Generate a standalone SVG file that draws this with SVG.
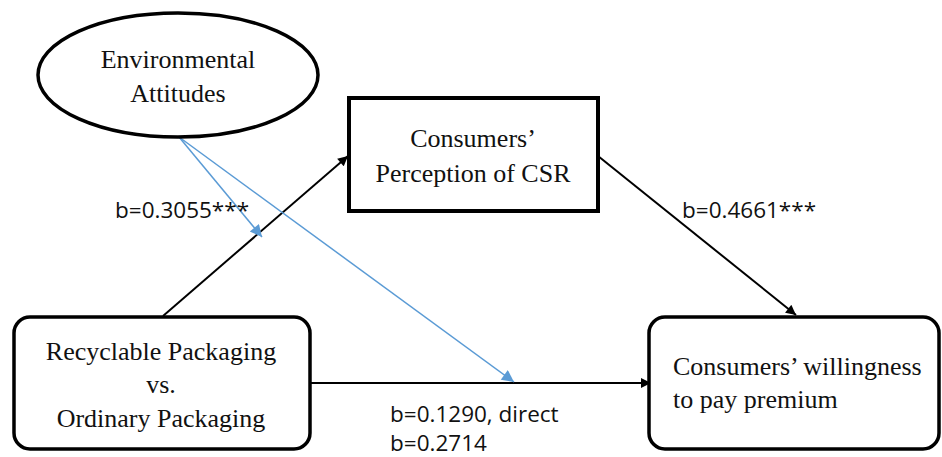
<svg xmlns="http://www.w3.org/2000/svg" width="942" height="457" viewBox="0 0 942 457">
<defs>
<marker id="ab" viewBox="0 0 10 10" refX="10" refY="5" markerWidth="12" markerHeight="10" markerUnits="userSpaceOnUse" orient="auto"><path d="M0,0 L10,5 L0,10 z" fill="#000"/></marker>
<marker id="au" viewBox="0 0 10 10" refX="10" refY="5" markerWidth="14" markerHeight="12" markerUnits="userSpaceOnUse" orient="auto"><path d="M0,0 L10,5 L0,10 z" fill="#5b9bd5"/></marker>
</defs>
<style>
.n{fill:#fff;stroke:#000}
.t{font-family:"Liberation Serif","Times New Roman",serif;font-size:26px;fill:#111}
.l{font-family:"Open Sans","Liberation Sans",sans-serif;font-size:22.5px;fill:#111}
.c{stroke:#000;stroke-width:2;fill:none}
.b{stroke:#5b9bd5;stroke-width:1.5;fill:none}
</style>
<rect width="942" height="457" fill="#fff"/>
<g id="connectors">
<line class="c" x1="163" y1="316" x2="348" y2="156" marker-end="url(#ab)"/>
<line class="c" x1="598" y1="156" x2="796" y2="315" marker-end="url(#ab)"/>
<line class="c" x1="310" y1="383" x2="651" y2="383" marker-end="url(#ab)"/>
<line class="b" x1="179" y1="137" x2="262" y2="237" marker-end="url(#au)"/>
<line class="b" x1="179" y1="137" x2="514" y2="382" marker-end="url(#au)"/>
</g>
<g id="env">
<ellipse class="n" cx="178" cy="75" rx="140" ry="62" stroke-width="3.5"/>
<text class="t" x="178" y="68" text-anchor="middle">Environmental</text>
<text class="t" x="178" y="102" text-anchor="middle">Attitudes</text>
</g>
<g id="csr">
<rect class="n" x="349" y="98" width="249" height="113" stroke-width="4"/>
<text class="t" x="473" y="147" text-anchor="middle">Consumers’</text>
<text class="t" x="473" y="182" text-anchor="middle">Perception of CSR</text>
</g>
<g id="pack">
<rect class="n" x="14" y="317" width="296" height="132" rx="16" stroke-width="3.5"/>
<text class="t" x="161" y="360" text-anchor="middle">Recyclable Packaging</text>
<text class="t" x="161" y="393" text-anchor="middle">vs.</text>
<text class="t" x="161" y="427" text-anchor="middle">Ordinary Packaging</text>
</g>
<g id="wtp">
<rect class="n" x="649" y="317" width="290" height="132" rx="16" stroke-width="3.5"/>
<text class="t" x="673" y="375">Consumers’ willingness</text>
<text class="t" x="673" y="408">to pay premium</text>
</g>
<g id="labels">
<text class="l" x="115" y="218">b=0.3055***</text>
<text class="l" x="682" y="218">b=0.4661***</text>
<text class="l" x="390" y="422">b=0.1290, direct</text>
<text class="l" x="390" y="451">b=0.2714</text>
</g>
</svg>
